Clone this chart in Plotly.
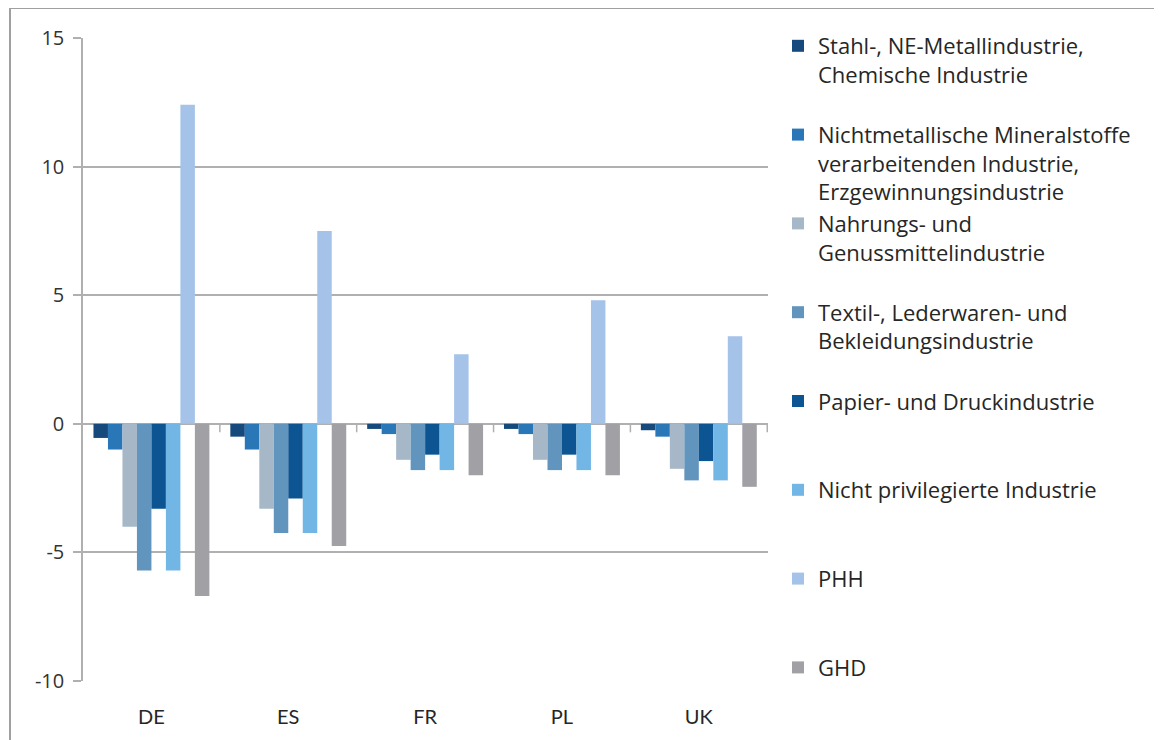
import plotly.graph_objects as go

# Data
countries = ["DE", "ES", "FR", "PL", "UK"]
series_names = [
    "Stahl-, NE-Metallindustrie,<br>Chemische Industrie",
    "Nichtmetallische Mineralstoffe<br>verarbeitenden Industrie,<br>Erzgewinnungsindustrie",
    "Nahrungs- und<br>Genussmittelindustrie",
    "Textil-, Lederwaren- und<br>Bekleidungsindustrie",
    "Papier- und Druckindustrie",
    "Nicht privilegierte Industrie",
    "PHH",
    "GHD",
]
stahl = [-0.55, -0.5, -0.2, -0.2, -0.25]
nichtmetall = [-1.0, -1.0, -0.4, -0.4, -0.5]
nahrung = [-4.0, -3.3, -1.4, -1.4, -1.75]
textil = [-5.7, -4.25, -1.8, -1.8, -2.2]
papier = [-3.3, -2.9, -1.2, -1.2, -1.45]
nicht_priv = [-5.7, -4.25, -1.8, -1.8, -2.2]
phh = [12.4, 7.5, 2.7, 4.8, 3.4]
ghd = [-6.7, -4.75, -2.0, -2.0, -2.45]

y_ticks = [-10, -5, 0, 5, 10, 15]
y_ticklabels = ["-10", "-5", "0", "5", "10", "15"]

colors = ["#174A7C", "#2A77B8", "#A6B8C8", "#6195BE", "#0D5592", "#72B6E6", "#A5C3E8", "#A0A0A5"]
values = [stahl, nichtmetall, nahrung, textil, papier, nicht_priv, phh, ghd]

fig = go.Figure()
for i, (name, vals, col) in enumerate(zip(series_names, values, colors)):
    # pad legend labels to 3 lines so entries are evenly spaced
    n_lines = name.count("<br>") + 1
    label = name + "<br> " * (3 - n_lines) if i < len(series_names) - 1 else name
    fig.add_trace(go.Bar(x=countries, y=vals, name=label, marker_color=col,
                         marker_line_width=0, legendgroup=str(i)))

grid = "#B0B0B0"
# page body has an 8px default margin, so the figure is a bit smaller
W, H = 1154, 732
L, T = 75, 30
pw, ph = 685, 643
R, B = W - L - pw, H - T - ph


def px_x(px):
    return (px - L) / pw


def px_y(py):
    return (T + ph - py) / ph


shapes = [
    dict(type="line", xref="paper", yref="paper", x0=px_x(2), x1=px_x(1200),
         y0=px_y(0), y1=px_y(0), line=dict(color="#A0A0A0", width=2)),
    dict(type="line", xref="paper", yref="paper", x0=px_x(2), x1=px_x(2),
         y0=px_y(0), y1=px_y(760), line=dict(color="#A0A0A0", width=2)),
]
# small category tick marks on the zero line
for k in range(1, len(countries) + 1):
    shapes.append(dict(type="line", xref="x", yref="y", x0=k - 0.5, x1=k - 0.5,
                       y0=0, y1=-0.33, line=dict(color=grid, width=1.5)))

fig.update_layout(
    width=W, height=H,
    margin=dict(l=L, r=R, t=T, b=B),
    paper_bgcolor="white", plot_bgcolor="white",
    barmode="group", bargap=0.153, bargroupgap=0,
    font=dict(family="Lato", color="#262626"),
    shapes=shapes,
    legend=dict(x=px_x(770), xanchor="left", y=px_y(17), yanchor="top",
                font=dict(family="Open Sans", size=22, color="#262626"),
                valign="top", tracegroupgap=0, maxheight=740,
                bgcolor="rgba(0,0,0,0)"),
    showlegend=True,
)
fig.update_yaxes(range=[-10, 15], tickvals=y_ticks, ticktext=y_ticklabels,
                 showgrid=True, gridcolor=grid, gridwidth=1.5,
                 zeroline=True, zerolinecolor=grid, zerolinewidth=1.5,
                 showline=True, linecolor=grid, linewidth=1.5,
                 ticks="outside", ticklen=8, tickcolor=grid, tickwidth=1.5,
                 ticklabelstandoff=5,
                 tickfont=dict(family="Open Sans", size=20, color="#333333"))
fig.update_xaxes(showgrid=False, showline=False, ticks="", ticklabelstandoff=22,
                 tickfont=dict(family="Lato", size=20, color="#262626"))

fig.write_html("out.html")
